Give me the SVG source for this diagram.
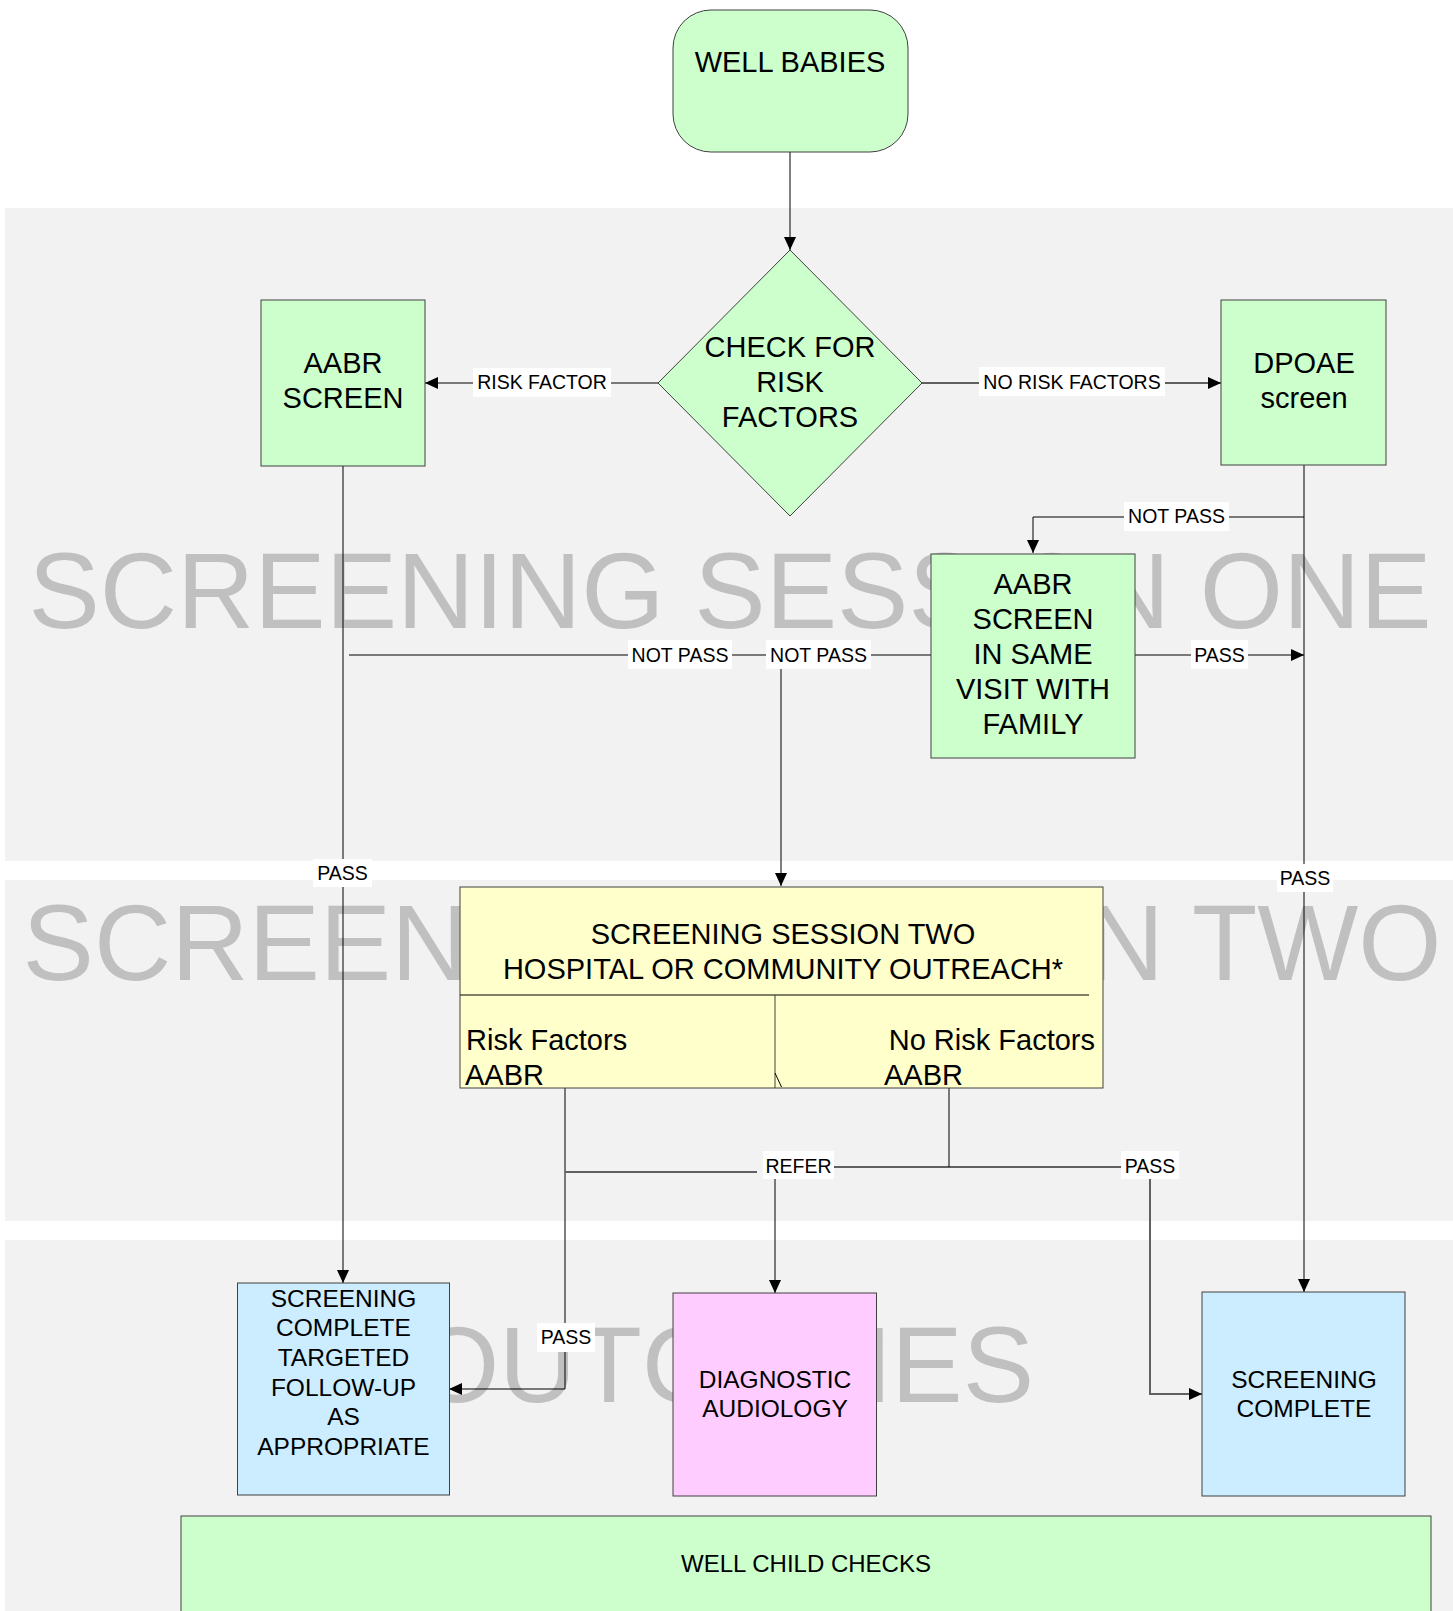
<svg xmlns="http://www.w3.org/2000/svg" width="1453" height="1611" viewBox="0 0 1453 1611">
<defs>
<marker id="arr" markerUnits="userSpaceOnUse" markerWidth="13" markerHeight="12" refX="13" refY="6" orient="auto">
<path d="M0,0 L13,6 L0,12 z" fill="#000"/>
</marker>
<style>
.band{fill:#F2F2F2}
.wm{font-family:"Liberation Sans",Arial,sans-serif;font-size:107px;fill:#C0C0C0;text-anchor:middle}
.n{stroke:#404040;stroke-width:1}
.g{fill:#CCFFCC}
.y{fill:#FFFFCC}
.b{fill:#CCECFF}
.p{fill:#FFCCFF}
.t{font-family:"Liberation Sans",Arial,sans-serif;font-size:29px;fill:#000;text-anchor:middle}
.ts{font-family:"Liberation Sans",Arial,sans-serif;font-size:29px;fill:#000;text-anchor:start}
.te{font-family:"Liberation Sans",Arial,sans-serif;font-size:29px;fill:#000;text-anchor:end}
.s{font-family:"Liberation Sans",Arial,sans-serif;font-size:24.5px;fill:#000;text-anchor:middle}
.c{fill:none;stroke:#000;stroke-width:1}
.c2{fill:none;stroke:#606060;stroke-width:2}
.lb{fill:#fff}
.lt{font-family:"Liberation Sans",Arial,sans-serif;font-size:19.5px;fill:#000;text-anchor:middle}
</style>
</defs>
<rect width="1453" height="1611" fill="#fff"/>
<g id="bands">
<rect class="band" x="5" y="208" width="1448" height="653"/>
<rect class="band" x="5" y="880" width="1448" height="341"/>
<rect class="band" x="5" y="1240" width="1448" height="371"/>
<text class="wm" x="730" y="628">SCREENING SESSION ONE</text>
<text class="wm" x="732" y="980">SCREENING SESSION TWO</text>
<text class="wm" x="725" y="1402">OUTCOMES</text>
</g>
<g id="connectors">
<path class="c" d="M790,152 V250" marker-end="url(#arr)"/>
<path class="c" d="M658,383 H425" marker-end="url(#arr)"/>
<path class="c2" d="M922,383 H1221" marker-end="url(#arr)"/>
<path class="c" d="M1304,465 V517 H1033 V553" marker-end="url(#arr)"/>
<path class="c" d="M1304,517 V1292" marker-end="url(#arr)"/>
<path class="c" d="M1135,655 H1304" marker-end="url(#arr)"/>
<path class="c" d="M931,655 H349"/>
<path class="c" d="M781,655 V886" marker-end="url(#arr)"/>
<path class="c" d="M343,466 V1283" marker-end="url(#arr)"/>
<path class="c" d="M565,1088 V1389 H449" marker-end="url(#arr)"/>
<path class="c2" d="M565,1172 H757"/>
<path class="c2" d="M834,1167 H1121"/>
<path class="c" d="M949,1088 V1167"/>
<path class="c" d="M775,1179 V1293" marker-end="url(#arr)"/>
<path class="c2" d="M1150,1179 V1394 H1202" marker-end="url(#arr)"/>
</g>
<g id="well-babies">
<rect class="n g" x="673" y="10" width="235" height="142" rx="38" ry="38"/>
<text class="t" x="790" y="72">WELL BABIES</text>
</g>
<g id="check-risk">
<polygon class="n g" points="790,250 922,383 790,516 658,383"/>
<text class="t" x="790" y="357">CHECK FOR</text>
<text class="t" x="790" y="392">RISK</text>
<text class="t" x="790" y="427">FACTORS</text>
</g>
<g id="aabr-screen">
<rect class="n g" x="261" y="300" width="164" height="166"/>
<text class="t" x="343" y="373">AABR</text>
<text class="t" x="343" y="408">SCREEN</text>
</g>
<g id="dpoae">
<rect class="n g" x="1221" y="300" width="165" height="165"/>
<text class="t" x="1304" y="373">DPOAE</text>
<text class="t" x="1304" y="408">screen</text>
</g>
<g id="aabr-same-visit">
<rect class="n g" x="931" y="554" width="204" height="204"/>
<text class="t" x="1033" y="594">AABR</text>
<text class="t" x="1033" y="629">SCREEN</text>
<text class="t" x="1033" y="664">IN SAME</text>
<text class="t" x="1033" y="699">VISIT WITH</text>
<text class="t" x="1033" y="734">FAMILY</text>
</g>
<g id="session-two">
<rect class="n y" x="460" y="887" width="643" height="201"/>
<line x1="460" y1="995" x2="1089" y2="995" stroke="#000" stroke-width="1"/>
<line x1="775" y1="995" x2="775" y2="1088" stroke="#404040" stroke-width="1"/>
<line x1="775" y1="1073" x2="781.5" y2="1087" stroke="#000" stroke-width="1"/>
<text class="t" x="783" y="944">SCREENING SESSION TWO</text>
<text class="t" x="783" y="979">HOSPITAL OR COMMUNITY OUTREACH*</text>
<text class="ts" x="466" y="1050">Risk Factors</text>
<text class="ts" x="465" y="1085">AABR</text>
<text class="te" x="1095" y="1050">No Risk Factors</text>
<text class="ts" x="884" y="1085">AABR</text>
</g>
<g id="targeted-followup">
<rect class="n b" x="237.5" y="1283" width="212" height="212"/>
<text class="s" x="343.5" y="1306.5">SCREENING</text>
<text class="s" x="343.5" y="1336">COMPLETE</text>
<text class="s" x="343.5" y="1366">TARGETED</text>
<text class="s" x="343.5" y="1395.5">FOLLOW-UP</text>
<text class="s" x="343.5" y="1425">AS</text>
<text class="s" x="343.5" y="1455">APPROPRIATE</text>
</g>
<g id="diagnostic-audiology">
<rect class="n p" x="673" y="1293" width="203.5" height="203"/>
<text class="s" x="775" y="1387.5">DIAGNOSTIC</text>
<text class="s" x="775" y="1417">AUDIOLOGY</text>
</g>
<g id="screening-complete">
<rect class="n b" x="1202" y="1292" width="203" height="204"/>
<text class="s" x="1304" y="1387.5">SCREENING</text>
<text class="s" x="1304" y="1417">COMPLETE</text>
</g>
<g id="well-child-checks">
<rect class="n g" x="181" y="1516" width="1250" height="110"/>
<text class="s" x="806" y="1572" style="font-size:24px">WELL CHILD CHECKS</text>
</g>
<g id="labels">
<rect class="lb" x="473" y="368" width="138" height="29"/>
<text class="lt" x="542" y="389">RISK FACTOR</text>
<rect class="lb" x="979" y="367" width="186" height="29"/>
<text class="lt" x="1072" y="389">NO RISK FACTORS</text>
<rect class="lb" x="1124" y="502" width="105" height="29"/>
<text class="lt" x="1176.5" y="523">NOT PASS</text>
<rect class="lb" x="628" y="640" width="104" height="29"/>
<text class="lt" x="680" y="662">NOT PASS</text>
<rect class="lb" x="766" y="640" width="105" height="29"/>
<text class="lt" x="818.5" y="662">NOT PASS</text>
<rect class="lb" x="1191" y="640" width="57" height="29"/>
<text class="lt" x="1219.5" y="662">PASS</text>
<rect class="lb" x="313" y="859" width="59" height="28"/>
<text class="lt" x="342.5" y="880">PASS</text>
<rect class="lb" x="1277" y="864" width="56" height="28"/>
<text class="lt" x="1305" y="885">PASS</text>
<rect class="lb" x="763" y="1151" width="71" height="28"/>
<text class="lt" x="798.5" y="1173">REFER</text>
<rect class="lb" x="1121" y="1151" width="58" height="28"/>
<text class="lt" x="1150" y="1173">PASS</text>
<rect class="lb" x="537" y="1323" width="58" height="29"/>
<text class="lt" x="566" y="1344">PASS</text>
</g>
</svg>
